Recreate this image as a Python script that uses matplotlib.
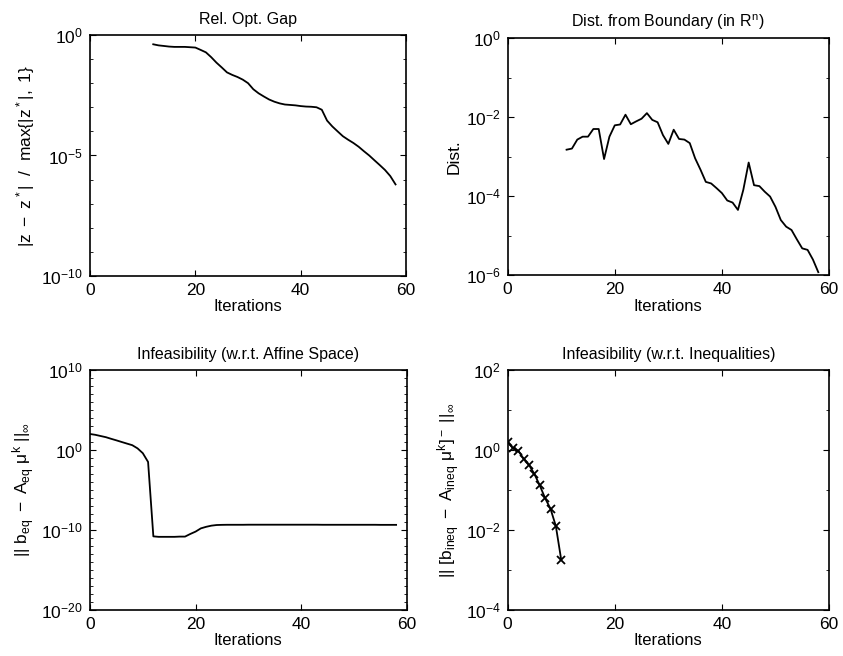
import numpy as np
import matplotlib
matplotlib.use("Agg")
import matplotlib.pyplot as plt
from matplotlib.ticker import LogLocator, NullFormatter

plt.rcParams['font.family'] = ['Liberation Sans', 'DejaVu Sans']
plt.rcParams['mathtext.fontset'] = 'custom'
plt.rcParams['mathtext.rm'] = 'Liberation Sans'
plt.rcParams['mathtext.it'] = 'Liberation Sans'
plt.rcParams['mathtext.bf'] = 'Liberation Sans:bold'

# --- datos ---
iter_gap = list(range(12, 59))
rel_gap = [4.1e-1, 3.7e-1, 3.5e-1, 3.3e-1, 3.2e-1, 3.2e-1, 3.2e-1, 3.1e-1, 3.0e-1,
           2.4e-1, 1.9e-1, 1.2e-1, 7.1e-2, 4.5e-2, 2.8e-2, 2.2e-2, 1.8e-2, 1.4e-2,
           1.0e-2, 5.6e-3, 3.8e-3, 2.8e-3, 2.1e-3, 1.7e-3, 1.45e-3, 1.3e-3, 1.25e-3,
           1.2e-3, 1.12e-3, 1.07e-3, 1.05e-3, 1.0e-3, 7.9e-4, 2.8e-4, 1.6e-4, 1.0e-4,
           6.3e-5, 4.5e-5, 3.3e-5, 2.3e-5, 1.5e-5, 1.0e-5, 6.3e-6, 4.0e-6, 2.5e-6,
           1.4e-6, 6.3e-7]

iter_dist = list(range(11, 59))
dist = [1.5e-3, 1.6e-3, 2.7e-3, 3.2e-3, 3.2e-3, 5.0e-3, 5.0e-3, 8.7e-4, 3.2e-3,
        6.2e-3, 6.5e-3, 1.15e-2, 6.6e-3, 7.8e-3, 9.1e-3, 1.26e-2, 8.5e-3, 7.4e-3,
        3.5e-3, 2.1e-3, 4.8e-3, 2.8e-3, 2.7e-3, 2.2e-3, 9.1e-4, 4.7e-4, 2.3e-4,
        2.1e-4, 1.6e-4, 1.2e-4, 7.8e-5, 6.9e-5, 4.5e-5, 1.45e-4, 7.1e-4, 1.9e-4,
        1.8e-4, 1.3e-4, 9.8e-5, 5.4e-5, 2.5e-5, 1.7e-5, 1.4e-5, 8.1e-6, 4.8e-6,
        4.4e-6, 2.5e-6, 1.2e-6]

iter_eq = list(range(0, 59))
infeas_eq = [1.0e2, 7.9e1, 5.6e1, 4.0e1, 2.5e1, 1.6e1, 1.0e1, 6.3e0, 4.0e0, 1.6e0,
             4.0e-1, 3.2e-2, 1.6e-11, 1.4e-11, 1.4e-11, 1.4e-11, 1.4e-11, 1.5e-11,
             1.5e-11, 3.2e-11, 6.3e-11, 1.6e-10, 2.5e-10, 3.5e-10, 4.2e-10, 4.4e-10,
             4.5e-10, 4.5e-10, 4.5e-10, 4.5e-10, 4.6e-10, 4.6e-10, 4.6e-10, 4.6e-10,
             4.6e-10, 4.6e-10, 4.6e-10, 4.6e-10, 4.6e-10, 4.6e-10, 4.6e-10, 4.6e-10,
             4.6e-10, 4.6e-10, 4.5e-10, 4.5e-10, 4.5e-10, 4.5e-10, 4.5e-10, 4.5e-10,
             4.5e-10, 4.5e-10, 4.5e-10, 4.5e-10, 4.5e-10, 4.4e-10, 4.4e-10, 4.4e-10,
             4.4e-10]

iter_ineq = list(range(0, 11))
infeas_ineq = [1.6e0, 1.1e0, 9.5e-1, 6.0e-1, 4.2e-1, 2.5e-1, 1.3e-1, 6.2e-2,
               3.4e-2, 1.25e-2, 1.8e-3]

titulos = ['Rel. Opt. Gap', 'Dist. from Boundary (in $R^n$)',
           'Infeasibility (w.r.t. Affine Space)', 'Infeasibility (w.r.t. Inequalities)']
etiquetas_y = [r'$|z\ -\ z^*|\ \ /\ \ \max\{|z^*|,\ 1\}$', 'Dist.',
               r'$||\ b_{eq}\ -\ A_{eq}\ \mu^k\ ||_\infty$',
               r'$||\ [b_{ineq}\ -\ A_{ineq}\ \mu^k]^-\ ||_\infty$']
limites_y = [(1e-10, 1e0), (1e-6, 1e0), (1e-20, 1e10), (1e-4, 1e2)]
ticks_y = [[1e-10, 1e-5, 1e0], [1e-6, 1e-4, 1e-2, 1e0],
           [1e-20, 1e-10, 1e0, 1e10], [1e-4, 1e-2, 1e0, 1e2]]

fig = plt.figure(figsize=(8.43, 6.56), dpi=100)
posiciones = [[0.1068, 0.5793, 0.3749, 0.3674],
              [0.6022, 0.5803, 0.3812, 0.3618],
              [0.1068, 0.0701, 0.3756, 0.3659],
              [0.6022, 0.0701, 0.3812, 0.3659]]
ejes = [fig.add_axes(p) for p in posiciones]

ejes[0].semilogy(iter_gap, rel_gap, color='black', linewidth=1.3)
ejes[1].semilogy(iter_dist, dist, color='black', linewidth=1.3)
ejes[2].semilogy(iter_eq, infeas_eq, color='black', linewidth=1.3)
ejes[3].semilogy(iter_ineq, infeas_ineq, color='black', linewidth=1.3,
                 marker='x', markersize=6, markeredgewidth=1.3)

for i, ax in enumerate(ejes):
    ax.set_xlim(0, 60)
    ax.set_xticks([0, 20, 40, 60])
    ax.set_ylim(*limites_y[i])
    ax.set_yticks(ticks_y[i])
    ax.yaxis.set_minor_locator(LogLocator(base=10, subs=[1.0], numticks=40))
    ax.yaxis.set_minor_formatter(NullFormatter())
    ax.set_title(titulos[i], fontsize=11.5, pad=8)
    ax.set_xlabel('Iterations', fontsize=12, labelpad=1)
    ax.set_ylabel(etiquetas_y[i], fontsize=12.5, labelpad=3)
    ax.tick_params(which='both', direction='in', top=True, right=True, labelsize=12.5)
    ax.tick_params(which='major', length=4, pad=5)
    ax.tick_params(which='minor', length=2)
    for s in ax.spines.values():
        s.set_linewidth(1.2)

fig.savefig('out.png', dpi=100)
